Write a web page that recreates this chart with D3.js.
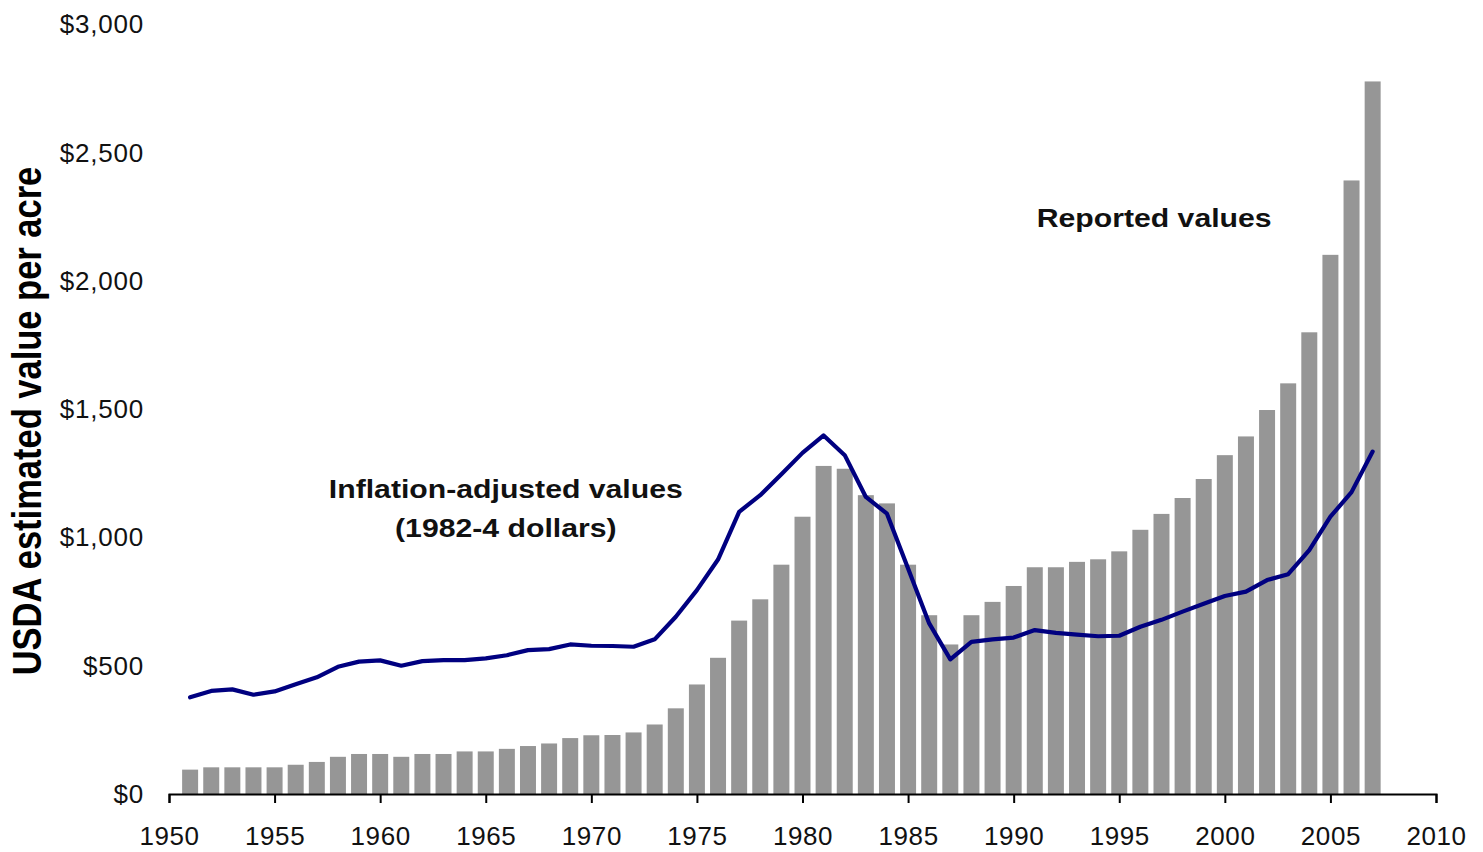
<!DOCTYPE html>
<html>
<head>
<meta charset="utf-8">
<script src="https://cdn.jsdelivr.net/npm/d3@7/dist/d3.min.js"></script>
<style>
  body { margin: 0; background: #fff; }
  svg { display: block; font-family: "Liberation Sans", Arial, sans-serif; }
</style>
</head>
<body>
<svg id="chart" width="1483" height="852"></svg>
<script>
// years shown as bars / line points
var years = d3.range(1951, 2008);

// USDA reported value per acre (nominal $)
var reported = [
    95, 104, 104, 104, 104, 114, 125, 145, 156, 156,
    145, 156, 156, 166, 166, 176, 187, 197, 218, 229,
    230, 240, 271, 334, 427, 531, 676, 759, 894, 1081,
    1279, 1268, 1165, 1133, 894, 697, 583, 697, 749, 811,
    884, 884, 905, 915, 946, 1030, 1092, 1154, 1228, 1321,
    1394, 1497, 1601, 1800, 2102, 2392, 2778
];

// inflation-adjusted value per acre (1982-4 dollars)
var adjusted = [
    377, 402, 408, 387, 400, 428, 455, 496, 516, 521,
    500, 518, 522, 522, 529, 541, 561, 565, 583, 578,
    577, 574, 603, 691, 795, 914, 1100, 1165, 1247, 1330,
    1398, 1321, 1158, 1093, 879, 665, 525, 593, 603, 610,
    639, 628, 621, 615, 617, 652, 679, 711, 742, 772,
    789, 834, 857, 951, 1081, 1177, 1335
];

var xTicks = d3.range(1950, 2011, 5);
var yTicks = [0, 500, 1000, 1500, 2000, 2500, 3000];

var svg = d3.select('#chart');

var x = d3.scaleLinear().domain([1950, 2010]).range([169, 1436]);
var y = d3.scaleLinear().domain([0, 3000]).range([794, 24.5]);

var barW = (x(1951) - x(1950)) * 0.757;

// bars
svg.append('g')
    .selectAll('rect')
    .data(years)
    .enter().append('rect')
    .attr('x', function (d) { return x(d) - barW / 2; })
    .attr('y', function (d, i) { return y(reported[i]); })
    .attr('width', barW)
    .attr('height', function (d, i) { return y(0) - y(reported[i]); })
    .attr('fill', '#969696');

// inflation-adjusted line
var line = d3.line()
    .x(function (d) { return x(d); })
    .y(function (d, i) { return y(adjusted[i]); });

svg.append('path')
    .datum(years)
    .attr('d', line)
    .attr('fill', 'none')
    .attr('stroke', '#000080')
    .attr('stroke-width', 4.2)
    .attr('stroke-linejoin', 'round')
    .attr('stroke-linecap', 'round');

// x axis
var xAxis = svg.append('g')
    .attr('transform', 'translate(0,' + y(0) + ')')
    .call(d3.axisBottom(x)
        .tickValues(xTicks)
        .tickFormat(d3.format('d'))
        .tickSize(9)
        .tickSizeOuter(9)
        .tickPadding(23.5));

xAxis.select('.domain').attr('stroke', '#000').attr('stroke-width', 2);
xAxis.selectAll('.tick line').attr('stroke', '#000').attr('stroke-width', 2);
xAxis.selectAll('text')
    .attr('font-family', '"Liberation Sans", Arial, sans-serif')
    .attr('font-size', 26)
    .attr('letter-spacing', '0.6px')
    .attr('fill', '#111');

// y axis (labels only)
var yAxis = svg.append('g')
    .attr('transform', 'translate(' + x(1950) + ',0)')
    .call(d3.axisLeft(y)
        .tickValues(yTicks)
        .tickFormat(function (d) { return '$' + d3.format(',')(d); })
        .tickSize(0)
        .tickPadding(25));

yAxis.select('.domain').remove();
yAxis.selectAll('text')
    .attr('font-family', '"Liberation Sans", Arial, sans-serif')
    .attr('font-size', 26)
    .attr('letter-spacing', '0.8px')
    .attr('fill', '#111');

// y axis title, stretched horizontally like the source image
svg.append('text')
    .attr('transform', 'translate(41,421) scale(1.2,1) rotate(-90)')
    .attr('text-anchor', 'middle')
    .attr('font-size', 34.5)
    .attr('font-weight', 'bold')
    .attr('fill', '#000')
    .text('USDA estimated value per acre');

// annotations
function note(px, py, anchor, txt) {
    svg.append('text')
        .attr('transform', 'translate(' + px + ',' + py + ') scale(1.18,1)')
        .attr('text-anchor', anchor)
        .attr('font-size', 25.6)
        .attr('font-weight', 'bold')
        .attr('fill', '#111')
        .text(txt);
}
note(1036.7, 226.7, 'start', 'Reported values');
note(505.8, 498.3, 'middle', 'Inflation-adjusted values');
note(505.8, 536.7, 'middle', '(1982-4 dollars)');
</script>
</body>
</html>
